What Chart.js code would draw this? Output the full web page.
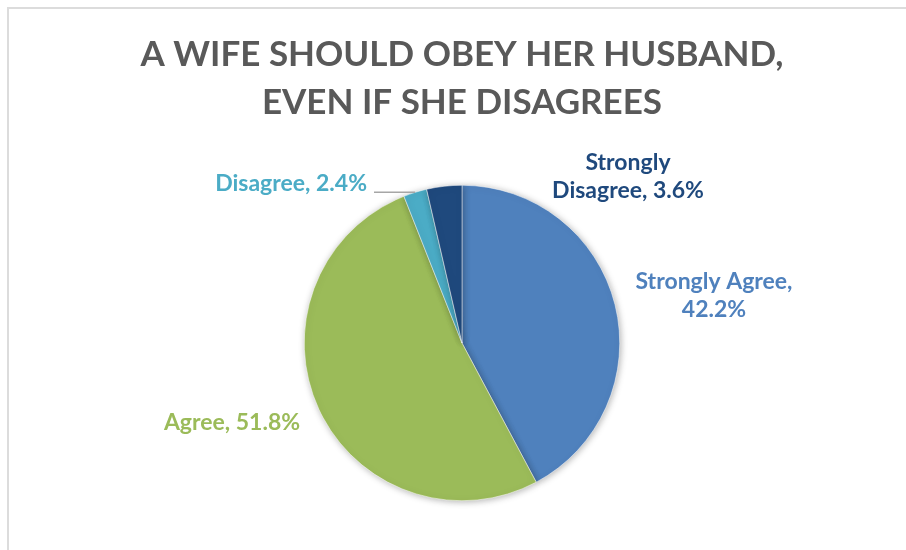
<!DOCTYPE html>
<html lang="en">
<head>
  <meta charset="UTF-8" />
  <title>A Wife Should Obey Her Husband</title>
  <script src="https://cdn.jsdelivr.net/npm/chart.js"></script>
  <style>
    body {
      margin: 0;
      background: #ffffff;
    }

    .frame {
      position: relative;
      width: 906px;
      height: 550px;
      overflow: hidden;
    }

    .frame::before {
      content: '';
      position: absolute;
      left: 7px;
      top: 7px;
      right: -10px;
      bottom: -10px;
      border-top: 2px solid #dcdcdc;
      border-left: 2px solid #dcdcdc;
    }

    canvas {
      position: absolute;
      left: 0;
      top: 0;
    }
  </style>
</head>
<body>

  <div class="frame">
    <canvas id="pieChart" width="906" height="550"></canvas>
  </div>

  <script>
    const categories = ['Strongly Agree', 'Agree', 'Disagree', 'Strongly Disagree'];
    const shares = [42.2, 51.8, 2.4, 3.6];
    const sliceColors = ['#4f81bd', '#9bbb59', '#4bacc6', '#1f497d'];
    const titleLines = ['A WIFE SHOULD OBEY HER HUSBAND,', 'EVEN IF SHE DISAGREES'];

    // where each label sits, relative to the pie centre
    const labelSpots = [
      { dx: 252, dy: -47, lines: ['Strongly Agree,', '{v}'] },
      { dx: -230, dy: 80, lines: ['Agree, {v}'] },
      { dx: -95, dy: -159, lines: ['Disagree, {v}'], align: 'right', leader: true },
      { dx: 166, dy: -166, lines: ['Strongly', 'Disagree, {v}'] }
    ];

    const titlePlugin = {
      id: 'titleText',
      afterDraw(chart) {
        const ctx = chart.ctx;
        ctx.save();
        ctx.fillStyle = '#595959';
        ctx.font = 'bold 35px Lato, "Open Sans", sans-serif';
        ctx.textAlign = 'center';
        ctx.textBaseline = 'middle';
        ctx.fillText(titleLines[0], 462, 55);
        ctx.fillText(titleLines[1], 462, 103);
        ctx.restore();
      }
    };

    const shadowPlugin = {
      id: 'pieShadow',
      beforeDatasetsDraw(chart) {
        const ctx = chart.ctx;
        ctx.save();
        ctx.shadowColor = 'rgba(0,0,0,0.3)';
        ctx.shadowBlur = 7;
        ctx.shadowOffsetX = 1;
        ctx.shadowOffsetY = 1;
      },
      afterDatasetsDraw(chart) {
        chart.ctx.restore();
      }
    };

    const labelPlugin = {
      id: 'sliceLabels',
      afterDatasetsDraw(chart) {
        const ctx = chart.ctx;
        const arcs = chart.getDatasetMeta(0).data;
        ctx.save();
        ctx.font = 'bold 23px Lato, "Open Sans", sans-serif';
        ctx.textBaseline = 'middle';
        arcs.forEach((arc, i) => {
          const spot = labelSpots[i];
          const p = arc.getProps(['x', 'y', 'startAngle', 'endAngle', 'outerRadius'], true);
          const lx = p.x + spot.dx;
          const ly = p.y + spot.dy;
          const lineH = 28;
          const lines = spot.lines.map(s => s.replace('{v}', shares[i].toFixed(1) + '%'));
          ctx.fillStyle = sliceColors[i];
          ctx.textAlign = spot.align || 'center';
          lines.forEach((txt, k) => {
            ctx.fillText(txt, lx, ly + (k - (lines.length - 1) / 2) * lineH);
          });
          if (spot.leader) {
            const mid = (p.startAngle + p.endAngle) / 2;
            const ex = p.x + Math.cos(mid) * p.outerRadius;
            const ey = p.y + Math.sin(mid) * p.outerRadius;
            ctx.strokeStyle = '#a6a6a6';
            ctx.lineWidth = 1.5;
            ctx.beginPath();
            ctx.moveTo(lx + 7, ey);
            ctx.lineTo(ex, ey);
            ctx.stroke();
          }
        });
        ctx.restore();
      }
    };

    const pieChart = new Chart(document.getElementById('pieChart').getContext('2d'), {
      type: 'pie',
      data: {
        labels: categories,
        datasets: [{
          data: shares,
          backgroundColor: sliceColors,
          borderColor: '#ffffff',
          borderWidth: 0.5
        }]
      },
      options: {
        responsive: false,
        animation: false,
        layout: {
          padding: { top: 185, bottom: 49, left: 304, right: 286 }
        },
        plugins: {
          legend: { display: false },
          tooltip: { enabled: false },
          title: { display: false }
        }
      },
      plugins: [shadowPlugin, labelPlugin, titlePlugin]
    });
  </script>

</body>
</html>
